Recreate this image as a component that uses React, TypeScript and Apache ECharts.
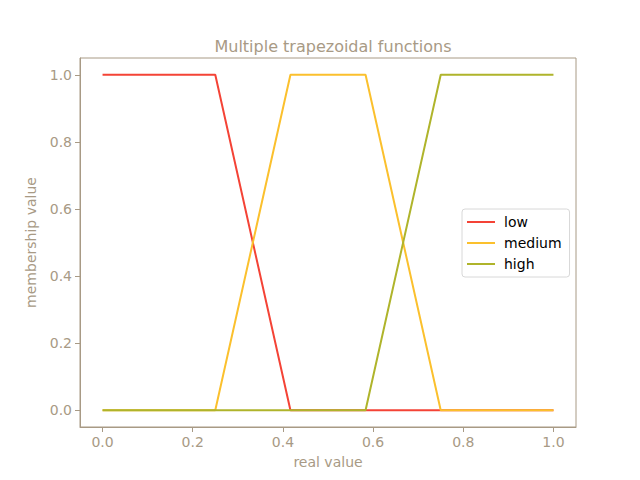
import React, { useEffect, useRef } from "react";
import * as echarts from "echarts";

const seriesNames = ["low", "medium", "high"];
const lowX = [0, 0.25, 0.4167, 1.0];
const lowY = [1, 1, 0, 0];
const mediumX = [0, 0.25, 0.4167, 0.5833, 0.75, 1.0];
const mediumY = [0, 0, 1, 1, 0, 0];
const highX = [0, 0.5833, 0.75, 1.0];
const highY = [0, 0, 1, 1];
const tickValues = [0, 0.2, 0.4, 0.6, 0.8, 1.0];
const colors = ["#f44336", "#fbc02d", "#afb42b"];

const AXIS = "#a89a85";

function pairs(xs: number[], ys: number[]) {
  return xs.map((x, i) => [x, ys[i]]);
}

export default function App() {
  const ref = useRef<HTMLDivElement>(null);
  useEffect(() => {
    const chart = echarts.init(ref.current!, null, { renderer: "svg" });
    const data = [pairs(lowX, lowY), pairs(mediumX, mediumY), pairs(highX, highY)];
    const axisCommon = (name: string, nameGap: number) => ({
      type: "value" as const,
      min: -0.05,
      max: 1.05,
      name,
      nameLocation: "middle" as const,
      nameGap,
      nameTextStyle: { color: AXIS, fontSize: 14, fontFamily: "DejaVu Sans" },
      splitLine: { show: false },
      axisLine: { show: true, onZero: false, lineStyle: { color: AXIS, width: 1 } },
      axisTick: {
        show: true,
        inside: false,
        length: 5,
        lineStyle: { color: AXIS },
        customValues: tickValues,
      },
      axisLabel: {
        color: AXIS,
        fontSize: 14,
        fontFamily: "DejaVu Sans",
        margin: 8,
        customValues: tickValues,
        formatter: (v: number) => v.toFixed(1),
      },
    });
    chart.setOption({
      animation: false,
      title: {
        text: "Multiple trapezoidal functions",
        left: 328,
        textAlign: "center",
        top: 33,
        textStyle: { color: AXIS, fontSize: 16, fontWeight: "normal", fontFamily: "DejaVu Sans" },
      },
      grid: {
        left: 80,
        right: 64,
        top: 58,
        bottom: 53,
        show: true,
        borderColor: AXIS,
        borderWidth: 1,
        containLabel: false,
      },
      legend: {
        left: 462,
        top: 209,
        orient: "vertical",
        data: seriesNames,
        icon: "rect",
        itemWidth: 28,
        itemHeight: 2,
        itemGap: 7,
        padding: [6, 8, 6, 5],
        borderColor: "#d8d8d8",
        borderWidth: 1,
        borderRadius: 3,
        backgroundColor: "#ffffff",
        textStyle: { color: "#000000", fontSize: 14, fontFamily: "DejaVu Sans", padding: [0, 0, 0, 4] },
      },
      xAxis: axisCommon("real value", 28),
      yAxis: axisCommon("membership value", 42),
      series: seriesNames.map((n, i) => ({
        name: n,
        type: "line",
        data: data[i],
        symbol: "none",
        lineStyle: { color: colors[i], width: 2 },
        itemStyle: { color: colors[i] },
      })),
    });
    return () => chart.dispose();
  }, []);
  return <div ref={ref} style={{ width: 640, height: 480, margin: -8 }} />;
}
